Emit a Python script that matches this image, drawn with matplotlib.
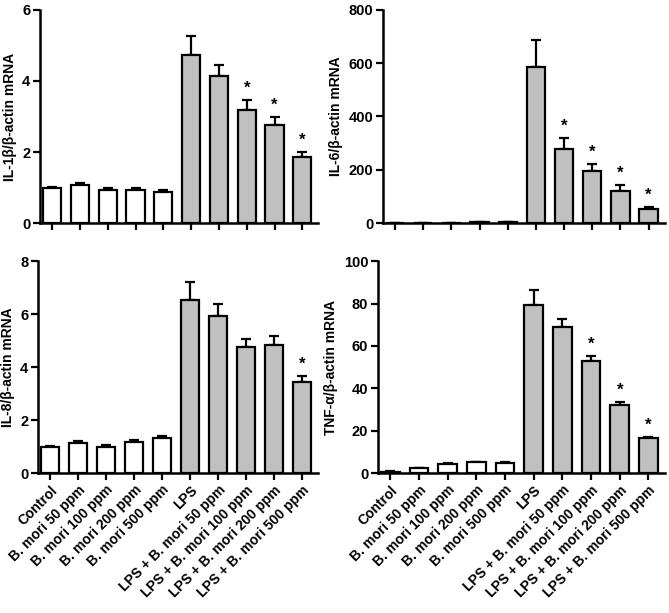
import matplotlib
matplotlib.use("Agg")
import matplotlib.pyplot as plt
import numpy as np

plt.rcParams['font.family'] = ['Liberation Sans', 'DejaVu Sans']
plt.rcParams['font.weight'] = 'bold'

categories = ["Control", "B. mori 50 ppm", "B. mori 100 ppm", "B. mori 200 ppm",
              "B. mori 500 ppm", "LPS", "LPS + B. mori 50 ppm",
              "LPS + B. mori 100 ppm", "LPS + B. mori 200 ppm",
              "LPS + B. mori 500 ppm"]

il1b_vals = [1.0, 1.06, 0.94, 0.94, 0.88, 4.74, 4.14, 3.19, 2.76, 1.87]
il1b_err = [0.02, 0.06, 0.05, 0.05, 0.05, 0.51, 0.31, 0.28, 0.22, 0.14]
il1b_sig = [7, 8, 9]

il6_vals = [1, 1, 1, 3, 3, 587, 277, 194, 121, 54]
il6_err = [0.5, 0.5, 0.5, 1, 1, 98, 42, 28, 23, 8]
il6_sig = [6, 7, 8, 9]

il8_vals = [1.0, 1.13, 1.0, 1.19, 1.32, 6.52, 5.92, 4.76, 4.84, 3.45]
il8_err = [0.02, 0.07, 0.07, 0.08, 0.07, 0.69, 0.45, 0.32, 0.34, 0.22]
il8_sig = [9]

tnf_vals = [0.8, 2.4, 4.4, 5.3, 5.0, 79.2, 69.0, 53.0, 32.0, 16.5]
tnf_err = [0.3, 0.2, 0.2, 0.2, 0.2, 7.3, 3.6, 2.2, 1.5, 0.6]
tnf_sig = [7, 8, 9]

panels = [
    dict(vals=il1b_vals, err=il1b_err, sig=il1b_sig, ylabel="IL-1β/β-actin mRNA",
         yticks=[0, 2, 4, 6], pos=[0.060, 0.636, 0.416, 0.348], labels=False),
    dict(vals=il6_vals, err=il6_err, sig=il6_sig, ylabel="IL-6/β-actin mRNA",
         yticks=[0, 200, 400, 600, 800], pos=[0.5725, 0.636, 0.4215, 0.348], labels=False),
    dict(vals=il8_vals, err=il8_err, sig=il8_sig, ylabel="IL-8/β-actin mRNA",
         yticks=[0, 2, 4, 6, 8], pos=[0.057, 0.228, 0.419, 0.346], labels=True),
    dict(vals=tnf_vals, err=tnf_err, sig=tnf_sig, ylabel="TNF-α/β-actin mRNA",
         yticks=[0, 20, 40, 60, 80, 100], pos=[0.565, 0.228, 0.429, 0.346], labels=True),
]

fig = plt.figure(figsize=(6.69, 6.13), dpi=100)
x = np.arange(len(categories))
colors = ['white'] * 5 + ['#c0c0c0'] * 5

for p in panels:
    ax = fig.add_axes(p['pos'])
    vals = np.array(p['vals'], dtype=float)
    err = np.array(p['err'], dtype=float)
    ax.errorbar(x, vals, yerr=[np.zeros_like(err), err], fmt='none',
                ecolor='black', elinewidth=1.6, capsize=3.8, capthick=1.6, zorder=1)
    ax.bar(x, vals, width=0.65, color=colors, edgecolor='black', linewidth=1.6, zorder=2)
    ymax = p['yticks'][-1]
    for i in p['sig']:
        ax.text(x[i], vals[i] + err[i] + ymax * 0.02, '*', ha='center', va='bottom',
                fontsize=12, fontweight='bold')
    ax.set_xlim(-0.43, 9.58)
    ax.set_ylim(0, ymax)
    ax.set_yticks(p['yticks'])
    ax.set_xticks(x)
    if p['labels']:
        ax.set_xticklabels(categories, rotation=45, ha='right', rotation_mode='anchor',
                           fontsize=10, fontweight='bold')
    else:
        ax.set_xticklabels([])
    for lab in ax.get_yticklabels():
        lab.set_fontweight('bold')
        lab.set_fontsize(10.5)
    ax.set_ylabel(p['ylabel'], fontsize=10, fontweight='bold', labelpad=4)
    for s in ['top', 'right']:
        ax.spines[s].set_visible(False)
    for s in ['left', 'bottom']:
        ax.spines[s].set_linewidth(1.8)
    ax.tick_params(axis='both', width=1.6, length=5, direction='out', pad=2)

fig.savefig("out.png", dpi=100)
